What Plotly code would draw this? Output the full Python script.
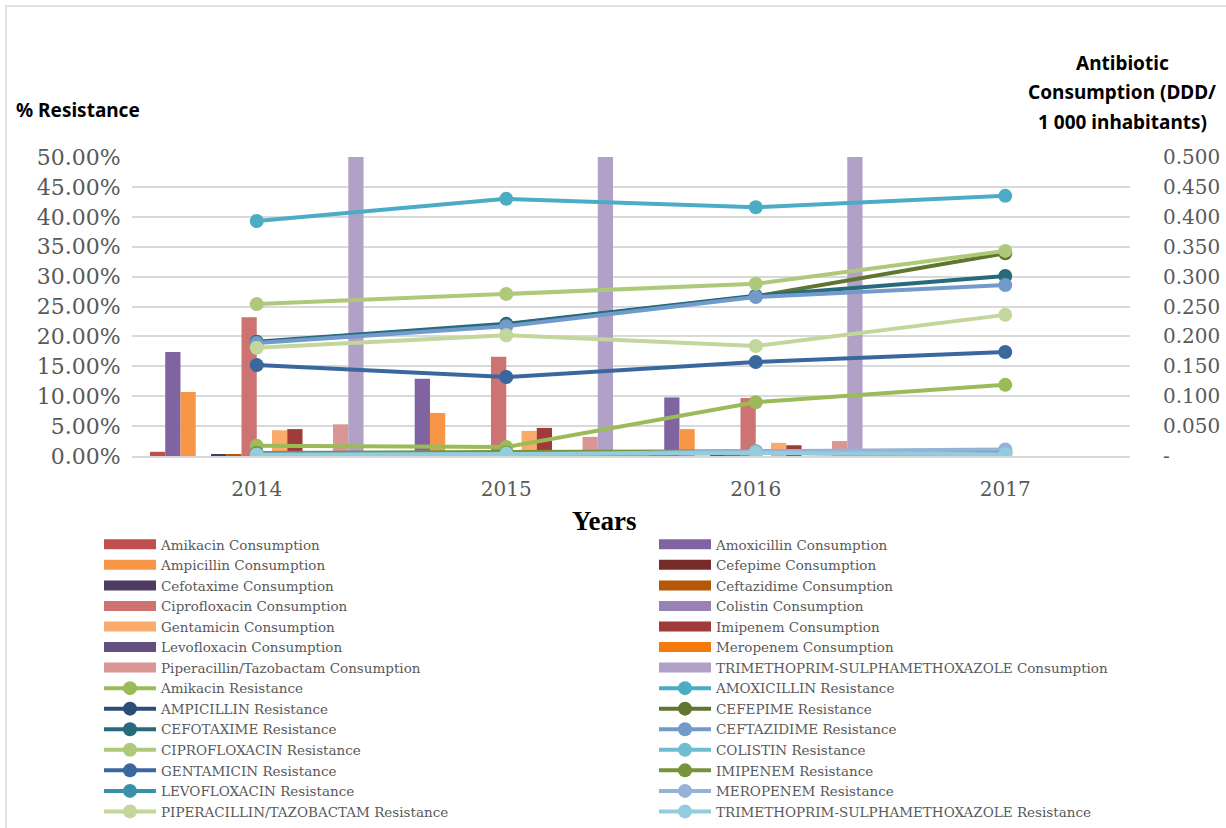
import plotly.graph_objects as go

years = ["2014", "2015", "2016", "2017"]

drugs_cons = ["Amikacin", "Amoxicillin", "Ampicillin", "Cefepime", "Cefotaxime", "Ceftazidime",
              "Ciprofloxacin", "Colistin", "Gentamicin", "Imipenem", "Levofloxacin", "Meropenem",
              "Piperacillin/Tazobactam", "TRIMETHOPRIM-SULPHAMETHOXAZOLE"]
cons_colors = ["#c0504d", "#8064a2", "#f79646", "#772c2a", "#4d3b62", "#b65708",
               "#cd7371", "#9983b5", "#f9ab6b", "#a03b39", "#644f81", "#f6790b",
               "#d99694", "#b2a1c7"]

# Antibiotic consumption (DDD / 1 000 inhabitants); 2017 not reported
amikacin_c      = [0.007, 0.003, 0.003, None]
amoxicillin_c   = [0.174, 0.129, 0.098, None]
ampicillin_c    = [0.107, 0.072, 0.045, None]
cefepime_c      = [0.000, 0.000, 0.000, None]
cefotaxime_c    = [0.002, 0.001, 0.001, None]
ceftazidime_c   = [0.002, 0.001, 0.001, None]
ciprofloxacin_c = [0.232, 0.166, 0.097, None]
colistin_c      = [0.000, 0.000, 0.000, None]
gentamicin_c    = [0.043, 0.042, 0.022, None]
imipenem_c      = [0.045, 0.047, 0.018, None]
levofloxacin_c  = [0.000, 0.000, 0.000, None]
meropenem_c     = [0.000, 0.000, 0.000, None]
piptazo_c       = [0.053, 0.032, 0.025, None]
tmpsmx_c        = [0.600, 0.600, 0.600, None]
consumption = [amikacin_c, amoxicillin_c, ampicillin_c, cefepime_c, cefotaxime_c, ceftazidime_c,
               ciprofloxacin_c, colistin_c, gentamicin_c, imipenem_c, levofloxacin_c, meropenem_c,
               piptazo_c, tmpsmx_c]

drugs_res = ["Amikacin", "AMOXICILLIN", "AMPICILLIN", "CEFEPIME", "CEFOTAXIME", "CEFTAZIDIME",
             "CIPROFLOXACIN", "COLISTIN", "GENTAMICIN", "IMIPENEM", "LEVOFLOXACIN", "MEROPENEM",
             "PIPERACILLIN/TAZOBACTAM", "TRIMETHOPRIM-SULPHAMETHOXAZOLE"]
res_colors = ["#9bbb59", "#4bacc6", "#2c4d75", "#5f7530", "#276a7c", "#729aca",
              "#afc97a", "#6fbdd1", "#3a679d", "#77933c", "#3891a7", "#95b3d7",
              "#c3d69b", "#93cddd"]

# % resistance
amikacin_r      = [1.7, 1.5, 9.0, 11.9]
amoxicillin_r   = [39.3, 43.0, 41.6, 43.5]
ampicillin_r    = [0.1, 0.2, 0.6, 0.7]
cefepime_r      = [19.0, 22.0, 26.7, 33.9]
cefotaxime_r    = [19.1, 22.1, 26.8, 30.1]
ceftazidime_r   = [18.9, 21.7, 26.6, 28.6]
ciprofloxacin_r = [25.4, 27.1, 28.8, 34.3]
colistin_r      = [0.2, 0.5, 0.6, 0.0]
gentamicin_r    = [15.2, 13.2, 15.7, 17.4]
imipenem_r      = [0.5, 0.6, 0.8, 0.6]
levofloxacin_r  = [0.3, 0.3, 0.5, 0.4]
meropenem_r     = [0.2, 0.2, 0.8, 1.1]
piptazo_r       = [18.1, 20.2, 18.4, 23.6]
tmpsmx_r        = [0.2, 0.4, 0.5, 0.3]
resistance = [amikacin_r, amoxicillin_r, ampicillin_r, cefepime_r, cefotaxime_r, ceftazidime_r,
              ciprofloxacin_r, colistin_r, gentamicin_r, imipenem_r, levofloxacin_r, meropenem_r,
              piptazo_r, tmpsmx_r]

right_ticks = [0, 0.05, 0.1, 0.15, 0.2, 0.25, 0.3, 0.35, 0.4, 0.45, 0.5]
right_ticktext = ["-"] + ["%.3f" % v for v in right_ticks[1:]]

SERIF = "DejaVu Serif"
GREY = "#595959"
PW, PH, L0, B0 = 998, 299, 132, 456  # plot width/height, left px, bottom px


def px_x(px):
    return (px - L0) / PW


def px_y(py):
    return (B0 - py) / PH


fig = go.Figure()

for name, vals, col in zip(drugs_cons, consumption, cons_colors):
    fig.add_trace(go.Bar(x=years, y=vals, name=name + " Consumption", marker_color=col,
                         marker_line_width=0, yaxis="y", showlegend=False))

# legend entries: alternate between left column (legend) and right column (legend2)
for i, (name, col) in enumerate(zip(drugs_cons, cons_colors)):
    fig.add_trace(go.Scatter(x=[None], y=[None], mode="lines", name=name + " Consumption",
                             line=dict(color=col, width=10), yaxis="y2",
                             legend="legend" if i % 2 == 0 else "legend2"))

for i, (name, vals, col) in enumerate(zip(drugs_res, resistance, res_colors)):
    fig.add_trace(go.Scatter(x=years, y=[v / 100 for v in vals], name=name + " Resistance",
                             mode="lines+markers", line=dict(color=col, width=4),
                             marker=dict(color=col, size=14), yaxis="y2",
                             legend="legend" if i % 2 == 0 else "legend2"))

leg_common = dict(orientation="v", xanchor="left", yanchor="top", itemwidth=52,
                  font=dict(family=SERIF, size=13.5, color=GREY), traceorder="normal",
                  bgcolor="rgba(0,0,0,0)", tracegroupgap=0, maxheight=400)

title_font = dict(family="Noto Sans", size=19, color="black", weight="bold")

fig.update_layout(
    width=1226, height=828,
    margin=dict(l=132, r=96, t=157, b=372, autoexpand=False),
    paper_bgcolor="white", plot_bgcolor="white",
    barmode="group", bargap=0.144, bargroupgap=0,
    xaxis=dict(type="category", range=[-0.5, 3.5], showgrid=False,
               showline=True, linecolor="#d9d9d9", linewidth=1.5,
               ticks="outside", ticklen=14, tickcolor="rgba(0,0,0,0)",
               tickfont=dict(family=SERIF, size=20, color=GREY)),
    yaxis=dict(side="right", range=[0, 0.5], tickvals=right_ticks, ticktext=right_ticktext,
               showgrid=True, gridcolor="#d9d9d9", gridwidth=1.5, zeroline=False,
               ticks="outside", ticklen=28, tickcolor="rgba(0,0,0,0)",
               tickfont=dict(family=SERIF, size=20, color=GREY)),
    yaxis2=dict(side="left", overlaying="y", range=[0, 0.5], tickvals=right_ticks,
                tickformat=".2%", showgrid=False, zeroline=False,
                ticks="outside", ticklen=6, tickcolor="rgba(0,0,0,0)",
                tickfont=dict(family=SERIF, size=22, color=GREY)),
    legend=dict(x=px_x(99), y=px_y(529), **leg_common),
    legend2=dict(x=px_x(654), y=px_y(529), **leg_common),
    shapes=[dict(type="rect", xref="paper", yref="paper",
                 x0=px_x(6), x1=px_x(1240), y0=px_y(840), y1=px_y(6),
                 line=dict(color="#d9d9d9", width=1.5), fillcolor="rgba(0,0,0,0)", layer="below")],
    annotations=[
        dict(text="% Resistance", xref="paper", yref="paper", x=px_x(14), y=px_y(110),
             xanchor="left", yanchor="middle", showarrow=False, font=title_font),
        dict(text="Antibiotic", xref="paper", yref="paper", x=px_x(1122), y=px_y(63),
             xanchor="center", yanchor="middle", showarrow=False, font=title_font),
        dict(text="Consumption (DDD/", xref="paper", yref="paper", x=px_x(1122), y=px_y(92),
             xanchor="center", yanchor="middle", showarrow=False, font=title_font),
        dict(text="1 000 inhabitants)", xref="paper", yref="paper", x=px_x(1122), y=px_y(122),
             xanchor="center", yanchor="middle", showarrow=False, font=title_font),
        dict(text="<b>Years</b>", xref="paper", yref="paper", x=px_x(604), y=px_y(521),
             xanchor="center", yanchor="middle", showarrow=False,
             font=dict(family="Liberation Serif", size=27, color="black")),
    ],
)

fig.write_html("out.html")
